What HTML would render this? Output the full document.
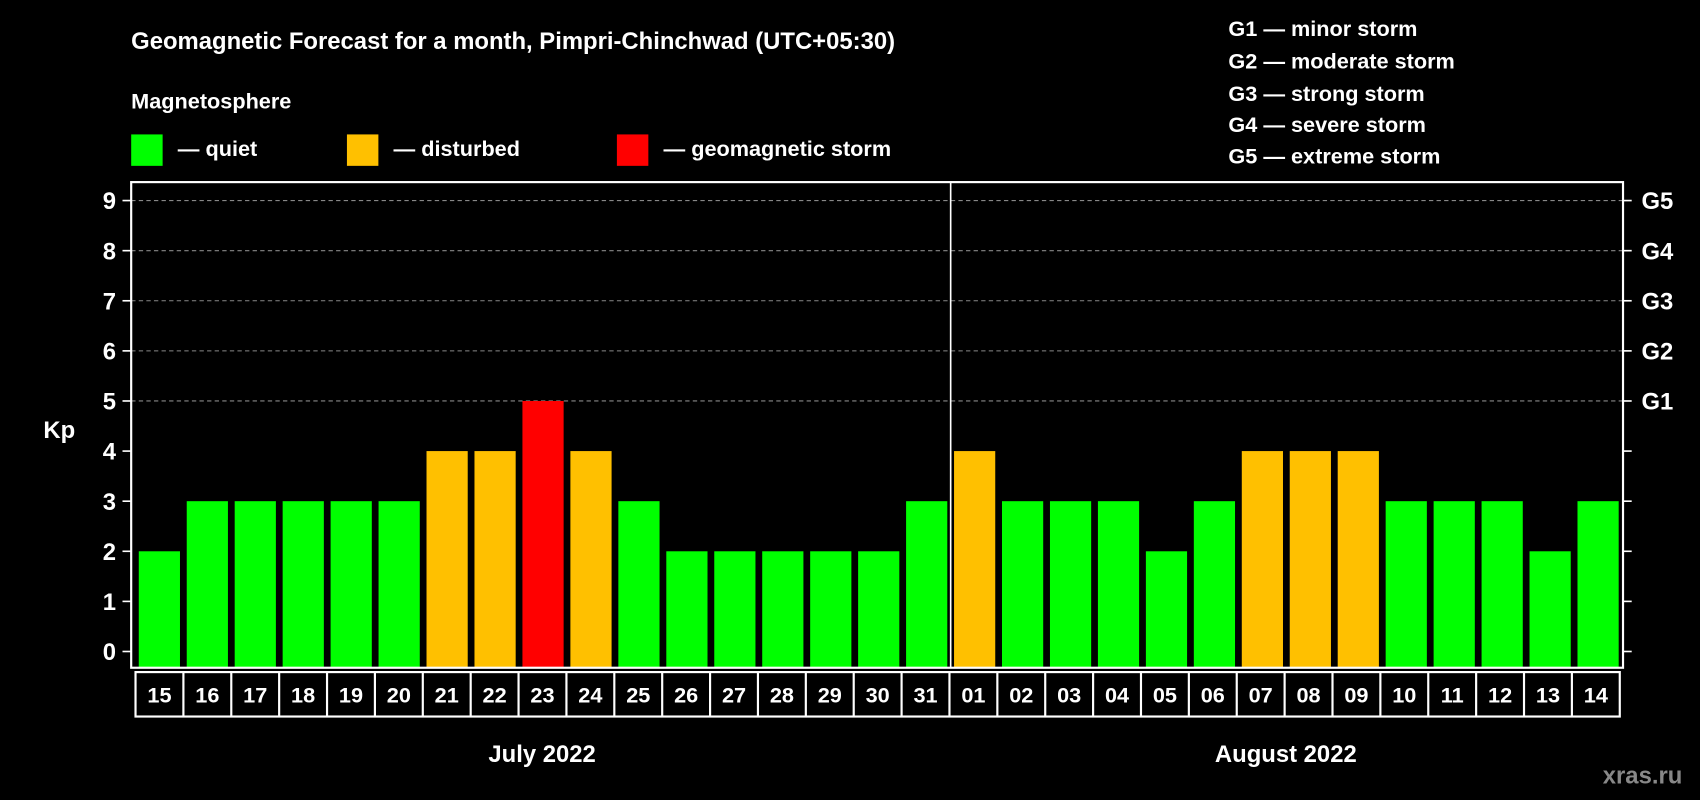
<!DOCTYPE html>
<html><head><meta charset="utf-8"><style>
html,body{margin:0;padding:0;background:#000;}
svg{display:block;font-family:"Liberation Sans",Arial,sans-serif;font-weight:bold;}
</style></head><body>
<svg id="chart" width="1700" height="800" viewBox="0 0 1568 738" preserveAspectRatio="none" xmlns="http://www.w3.org/2000/svg">
<rect width="1568" height="738" fill="#000"/>
<text x="121" y="45" fill="#fff" font-size="22">Geomagnetic Forecast for a month, Pimpri-Chinchwad (UTC+05:30)</text>
<text x="121" y="100" fill="#fff" font-size="20">Magnetosphere</text>
<g><rect x="121" y="124" width="29" height="29" fill="#00ff00"/><text x="164" y="144" fill="#fff" font-size="20">— quiet</text></g>
<g><rect x="320" y="124" width="29" height="29" fill="#ffc000"/><text x="363" y="144" fill="#fff" font-size="20">— disturbed</text></g>
<g><rect x="569" y="124" width="29" height="29" fill="#ff0000"/><text x="612" y="144" fill="#fff" font-size="20">— geomagnetic storm</text></g>
<g fill="#fff" font-size="20">
<text x="1133" y="33">G1 — minor storm</text>
<text x="1133" y="63">G2 — moderate storm</text>
<text x="1133" y="93">G3 — strong storm</text>
<text x="1133" y="122">G4 — severe storm</text>
<text x="1133" y="151">G5 — extreme storm</text>
</g>
<text x="40" y="404" fill="#fff" font-size="22">Kp</text>
<g id="grid"></g><g id="bars"></g><g id="axes"></g><g id="xlabels"></g>
<text x="500" y="703" fill="#fff" font-size="22" text-anchor="middle">July 2022</text>
<text x="1186" y="703" fill="#fff" font-size="22" text-anchor="middle">August 2022</text>
<text x="1515" y="723" fill="#888" font-size="22" text-anchor="middle">xras.ru</text>
</svg>
<script>
const days = ["15","16","17","18","19","20","21","22","23","24","25","26","27","28","29","30","31","01","02","03","04","05","06","07","08","09","10","11","12","13","14"];
const kpValues = [2,3,3,3,3,3,4,4,5,4,3,2,2,2,2,2,3,4,3,3,3,2,3,4,4,4,3,3,3,2,3];
const yTicks = [0,1,2,3,4,5,6,7,8,9];
const gLabels = ["","","","","","G1","G2","G3","G4","G5"];
const NS="http://www.w3.org/2000/svg";
const L=121,R=1497,T=168,B=616;
const y=v=>601-v*46.22;
const pitch=(R-L-4-3)/days.length;
const xc=i=>147+i*((1474-147)/(days.length-1));
function mk(tag,a,p){const e=document.createElementNS(NS,tag);for(const k in a)e.setAttribute(k,a[k]);p.appendChild(e);return e;}
const grid=document.getElementById('grid'),bars=document.getElementById('bars'),axes=document.getElementById('axes'),xl=document.getElementById('xlabels');
yTicks.forEach((t,i)=>{
  if(t>=5){const g=mk('line',{x1:L,x2:R,y1:y(t),y2:y(t),stroke:'#888','stroke-dasharray':'4,3','stroke-width':1},grid);
  
  }
  mk('line',{x1:L-8,x2:L,y1:y(t),y2:y(t),stroke:'#fff','stroke-width':1.5},axes);
  mk('line',{x1:R,x2:R+8,y1:y(t),y2:y(t),stroke:'#fff','stroke-width':1.5},axes);
  const tl=mk('text',{x:L-14,y:y(t)+8,fill:'#fff','font-size':22,'text-anchor':'end'},axes);tl.textContent=t;
  
  
  if(gLabels[i]){const gl=mk('text',{x:R+17,y:y(t)+8,fill:'#fff','font-size':22},axes);gl.textContent=gLabels[i];
  
  }
});
kpValues.forEach((v,i)=>{
  const c=v>=5?'#ff0000':(v>=4?'#ffc000':'#00ff00');
  const b=mk('rect',{x:xc(i)-19,y:y(v),width:38,height:y(0)-y(v)+15,fill:c},bars);
  
  
});
mk('rect',{x:L,y:T,width:R-L,height:B-T,fill:'none',stroke:'#fff','stroke-width':2},axes);
const dv=(xc(16)+xc(17))/2;
mk('line',{x1:dv,x2:dv,y1:T,y2:B,stroke:'#fff','stroke-width':1.5},axes);
const cw=(1494-125)/days.length;
mk('rect',{x:125,y:620,width:1494-125,height:41,fill:'none',stroke:'#fff','stroke-width':2},xl);
days.forEach((d,i)=>{
  if(i>0)mk('line',{x1:125+i*cw,x2:125+i*cw,y1:620,y2:661,stroke:'#fff','stroke-width':2},xl);
  const t=mk('text',{x:125+(i+0.5)*cw,y:648,fill:'#fff','font-size':20,'text-anchor':'middle'},xl);t.textContent=d;
  
  
});
</script>
</body></html>
